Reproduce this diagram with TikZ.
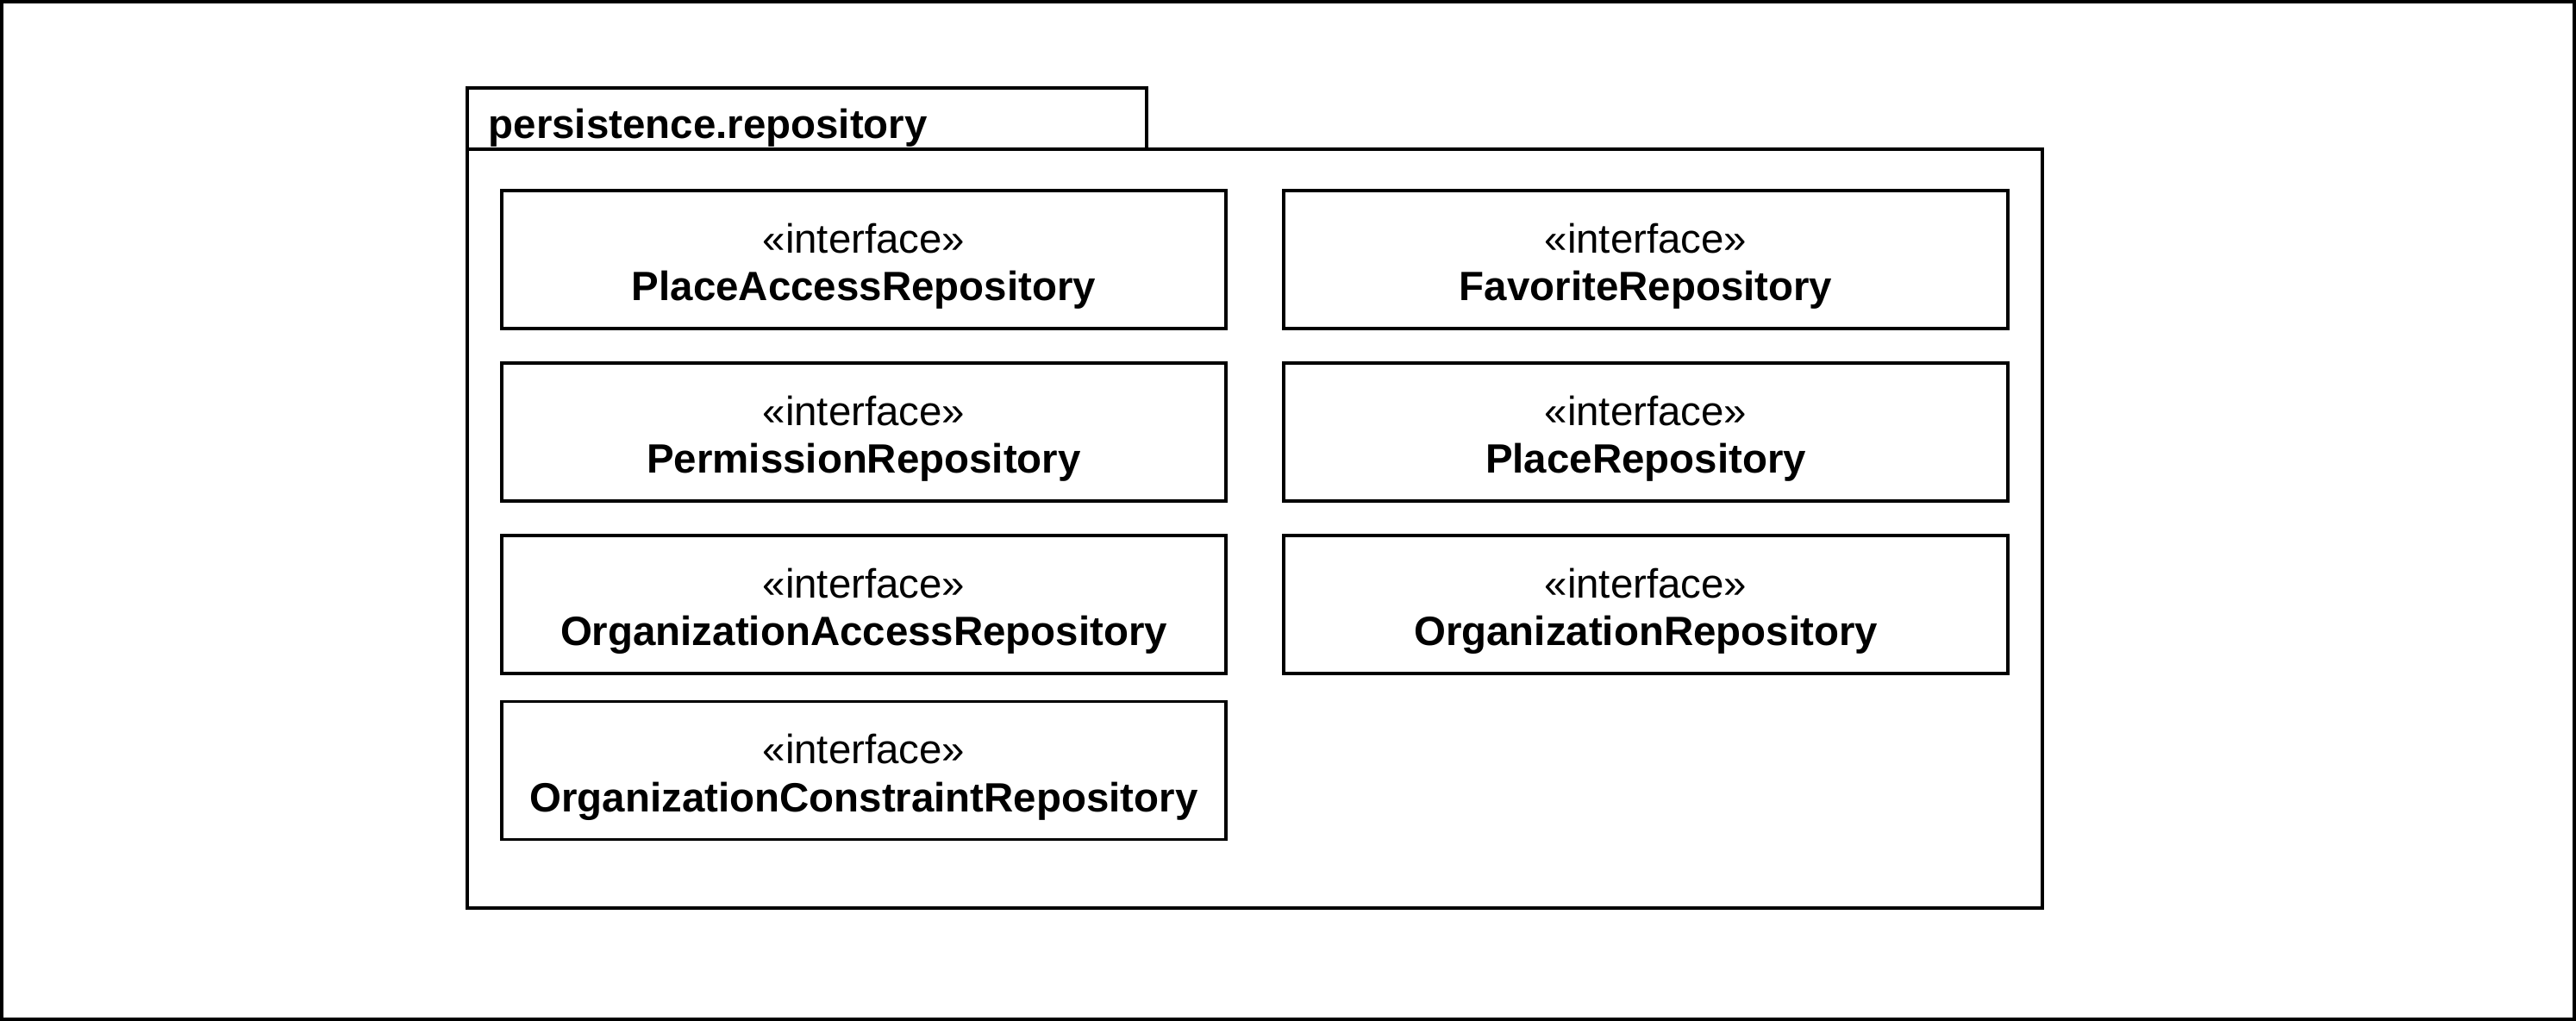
\documentclass[tikz,border=0pt]{standalone}
\usepackage{fontspec}
\setmainfont{Liberation Sans}
\usepackage{tikz}
\usetikzlibrary{positioning}

\newcommand{\ifacetag}{\rule{0pt}{0.5cm}«interface»}

\begin{document}
\begin{tikzpicture}[
    frame/.style={draw, line width=1.1pt},
    pkgbody/.style={rectangle, draw, line width=1.1pt, minimum width=18.27cm, minimum height=8.8cm},
    pkgtab/.style={rectangle, draw, line width=1.1pt, minimum width=7.88cm, minimum height=0.71cm},
    pkgname/.style={font=\fontsize{13.5}{15.7}\selectfont\bfseries, inner sep=0pt},
    iface/.style={rectangle, draw, line width=1.1pt, minimum width=8.4cm, minimum height=1.6cm, align=center, font=\fontsize{13.5}{15.7}\selectfont}
]
\useasboundingbox (0,0) rectangle (29.88,-11.84);
\draw[frame] (0.02,-0.02) rectangle (29.86,-11.82);

\node[pkgbody] (pkg) at (14.555,-6.13) {};
\node[pkgtab] (tab) at (9.36,-1.375) {};
\node[pkgname, anchor=base west] (pkgname) at (5.66,-1.61) {persistence.repository};

\node[iface] (placeaccess) at (10.02,-3.01) {\ifacetag\\\textbf{PlaceAccessRepository}};
\node[iface] (permission) at (10.02,-5.01) {\ifacetag\\\textbf{PermissionRepository}};
\node[iface] (orgaccess) at (10.02,-7.01) {\ifacetag\\\textbf{OrganizationAccessRepository}};
\node[iface] (orgconstraint) at (10.02,-8.935) {\ifacetag\\\textbf{OrganizationConstraintRepository}};
\node[iface] (favorite) at (19.09,-3.01) {\ifacetag\\\textbf{FavoriteRepository}};
\node[iface] (place) at (19.09,-5.01) {\ifacetag\\\textbf{PlaceRepository}};
\node[iface] (org) at (19.09,-7.01) {\ifacetag\\\textbf{OrganizationRepository}};
\end{tikzpicture}
\end{document}
